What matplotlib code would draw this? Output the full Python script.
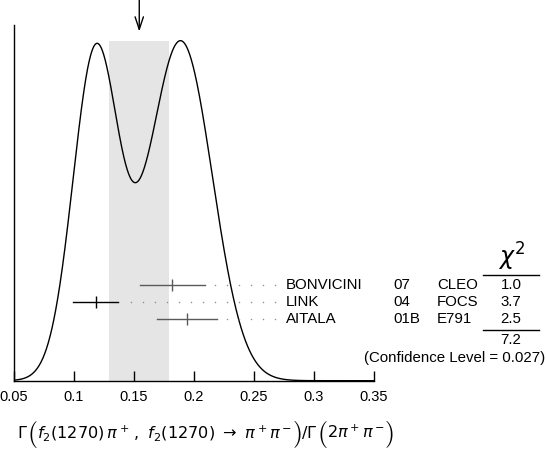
import numpy as np
import matplotlib
matplotlib.use("Agg")
import matplotlib.pyplot as plt
from matplotlib.transforms import blended_transform_factory
from matplotlib.lines import Line2D

plt.rcParams['font.family'] = ['Liberation Sans', 'DejaVu Sans']
plt.rcParams['mathtext.fontset'] = 'dejavusans'

# measurements
autores = ['BONVICINI', 'LINK', 'AITALA']
anios = ['07', '04', '01B']
experimentos = ['CLEO', 'FOCS', 'E791']
valores = np.array([0.182, 0.118, 0.194])
errores = np.array([0.027, 0.019, 0.025])
chi2_txt = ['1.0', '3.7', '2.5']
chi2_total = '7.2'
conf_level = '0.027'
xticks = [0.05, 0.1, 0.15, 0.2, 0.25, 0.3, 0.35]

# weighted mean and scaled error
w = 1 / errores**2
media = np.sum(w * valores) / np.sum(w)
err_media = 1 / np.sqrt(np.sum(w))
chi2 = np.sum(((valores - media) / errores)**2)
escala = np.sqrt(chi2 / (len(valores) - 1))
banda = (media - escala * err_media, media + escala * err_media)

# ideogram
xs = np.linspace(0.05, 0.35, 1200)
curva = np.zeros_like(xs)
for v, e in zip(valores, errores):
    curva += np.exp(-0.5 * ((xs - v) / e)**2) / e**2
curva /= curva.max()

W, H = 546, 449
fig = plt.figure(figsize=(W / 100, H / 100), dpi=100)
def fx(px): return px / W
def fy(py): return 1 - py / H

YTOP = 1.046
FS = 10.8
ax = fig.add_axes([fx(14), fy(380.7), fx(373.7) - fx(14), fy(25) - fy(380.7)])
ax.set_xlim(0.05, 0.35)
ax.set_ylim(0, YTOP)
for s in ['top', 'right']:
    ax.spines[s].set_visible(False)
ax.spines['left'].set_linewidth(1.0)
ax.spines['bottom'].set_linewidth(1.0)
ax.set_yticks([])
ax.set_xticks(xticks)
ax.set_xticklabels([f'{t:g}' for t in xticks])
ax.tick_params(axis='x', direction='in', length=7.2, width=1.0, pad=7, labelsize=10.5)

ax.axvspan(banda[0], banda[1], ymin=0, ymax=1.0 / YTOP, color='#e5e5e5', lw=0, zorder=0)
ax.plot(xs, curva, color='black', lw=1.0, zorder=3)

# arrow at the mean
ax.annotate('', xy=(media, 1.0 + (40.7 - 31.6) / 340), xycoords='data',
            xytext=(media, 1.0 + 40.7 / 340), textcoords='data',
            arrowprops=dict(arrowstyle='->,head_length=0.9,head_width=0.3', color='black', lw=1.0,
                            shrinkA=0, shrinkB=0), annotation_clip=False)

# measurements with dotted leaders
fila0, paso = 0.2815, 0.0507
x_fin, paso_punto = 0.2675, 0.01
colores = ['#5a5a5a', 'black', '#5a5a5a']
trans = blended_transform_factory(fig.transFigure, ax.transData)
for i in range(len(valores)):
    y = fila0 - i * paso
    lo, hi = valores[i] - errores[i], valores[i] + errores[i]
    ax.plot([lo, hi], [y, y], color=colores[i], lw=1.0, zorder=4)
    ax.plot([valores[i]], [y], marker='|', ms=9, mew=1.0, color=colores[i], zorder=4)
    puntos = []
    xp = x_fin
    while xp > hi + 0.006:
        puntos.append(xp)
        xp -= paso_punto
    ax.plot(puntos, [y] * len(puntos), ls='none', marker='o', ms=1.1, mew=0,
            color='#909090', clip_on=False, zorder=4)
    ax.text(fx(285.5), y, autores[i], transform=trans, ha='left', va='center', fontsize=FS)
    ax.text(fx(393), y, anios[i], transform=trans, ha='left', va='center', fontsize=FS)
    ax.text(fx(437), y, experimentos[i], transform=trans, ha='left', va='center', fontsize=FS)
    ax.text(fx(511), y, chi2_txt[i], transform=trans, ha='center', va='center', fontsize=FS)

fig.text(fx(512), fy(273), r'$\chi^2$', ha='center', va='bottom', fontsize=17)
fig.add_artist(Line2D([fx(483), fx(539)], [fy(274.5), fy(274.5)], color='black', lw=1.0))
fig.add_artist(Line2D([fx(483), fx(539)], [fy(329.5), fy(329.5)], color='black', lw=1.0))
fig.text(fx(511), fy(340.5), chi2_total, ha='center', va='center', fontsize=FS)
fig.text(fx(545), fy(358), f'(Confidence Level = {conf_level})', ha='right', va='center', fontsize=FS)

# x label built from pieces so the parentheses can be taller
piezas = [
    (r'$\Gamma$', False),
    ('(', True),
    (r'$f_2(1270)\,\pi^+\,,\ f_2(1270)\ \rightarrow\ \pi^+\pi^-$', False),
    (')', True),
    (r'$/\Gamma$', False),
    ('(', True),
    (r'$2\pi^+\pi^-$', False),
    (')', True),
]
renderer = fig.canvas.get_renderer()
x0, base = 16.7, 438.0

def colocar(tam, tam_par):
    objs = []
    x = x0
    for s, grande in piezas:
        if grande:
            t = fig.text(fx(x), fy(base + 3.0), r'$%s$' % s, ha='left', va='baseline',
                         fontsize=tam_par, math_fontfamily='cm')
        else:
            t = fig.text(fx(x), fy(base), s, ha='left', va='baseline', fontsize=tam)
        bb = t.get_window_extent(renderer)
        x += bb.width - 0.5
        objs.append(t)
    return objs, x - x0

objs, ancho = colocar(12, 19)
for t in objs:
    t.remove()
f = 376.0 / ancho
objs, ancho = colocar(12 * f, 19 * f)

fig.savefig('out.png', dpi=100)
